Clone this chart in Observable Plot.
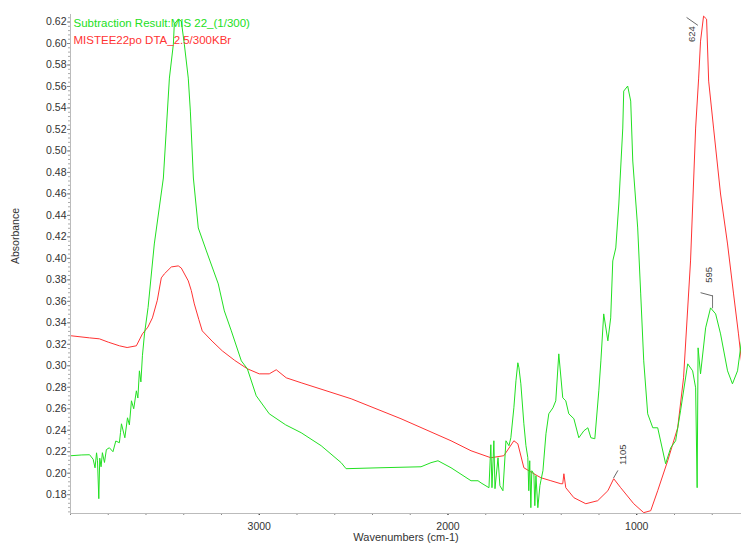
<!DOCTYPE html>
<html>
<head>
<meta charset="utf-8">
<script src="https://cdn.jsdelivr.net/npm/d3@7"></script>
<script src="https://cdn.jsdelivr.net/npm/@observablehq/plot@0.6"></script>
<style>
  body { margin: 0; background: #fff; }
  svg { font-family: "Liberation Sans", Arial, sans-serif; }
</style>
</head>
<body>
<div id="chart"></div>
<script>
// Green series: Subtraction Result:MIS 22_(1/300)
const greenWn = [3996,3940,3899,3880,3870,3862,3857,3850,3845,3838,3831,3820,3810,3794,3775,3760,3741,3735,3730,3712,3698,3688,3677,3665,3651,3643,3635,3627,3619,3608,3589,3556,3508,3492,3476,3455,3450,3429,3413,3397,3376,3365,3349,3323,3280,3217,3185,3148,3095,3063,3016,2947,2860,2778,2672,2566,2540,2355,2143,2090,2053,1984,1878,1841,1825,1783,1773,1767,1757,1751,1735,1725,1709,1693,1677,1667,1651,1640,1630,1624,1614,1598,1587,1577,1572,1567,1561,1556,1545,1540,1534,1524,1513,1508,1497,1481,1466,1444,1429,1413,1392,1376,1360,1333,1307,1280,1259,1243,1222,1201,1190,1175,1153,1138,1127,1111,1095,1074,1069,1048,1032,1021,995,979,963,942,915,889,847,820,794,768,730,704,688,680,675,662,635,609,582,556,519,493,466,445];
const greenAbs = [0.2163,0.2170,0.2172,0.2130,0.2050,0.2190,0.2116,0.1763,0.2140,0.2060,0.2191,0.2100,0.2220,0.2237,0.2200,0.2300,0.2284,0.2380,0.2460,0.2330,0.2516,0.2450,0.2674,0.2600,0.2767,0.2700,0.2953,0.2850,0.3093,0.3297,0.3542,0.4134,0.4748,0.5213,0.5678,0.5994,0.6180,0.6227,0.6208,0.5994,0.5678,0.5371,0.4748,0.4283,0.4069,0.3762,0.3511,0.3325,0.3046,0.2972,0.2721,0.2553,0.2450,0.2377,0.2256,0.2098,0.2042,0.2051,0.2060,0.2098,0.2116,0.2051,0.1930,0.1930,0.1910,0.1865,0.2265,0.1865,0.2302,0.1856,0.2144,0.1884,0.1837,0.2302,0.2256,0.2330,0.2609,0.2860,0.3028,0.2981,0.2832,0.2460,0.2256,0.2144,0.1837,0.2116,0.1679,0.2023,0.1995,0.1698,0.1977,0.1679,0.1884,0.1930,0.2023,0.2367,0.2553,0.2609,0.2674,0.3111,0.2702,0.2674,0.2553,0.2507,0.2330,0.2395,0.2423,0.2330,0.2321,0.2767,0.3046,0.3483,0.3232,0.3446,0.3976,0.4097,0.4506,0.5213,0.5557,0.5604,0.5464,0.4906,0.4283,0.3669,0.3046,0.2553,0.2423,0.2423,0.2088,0.2237,0.2302,0.2581,0.3018,0.2953,0.2795,0.1865,0.3167,0.2925,0.3353,0.3539,0.3483,0.3297,0.2953,0.2832,0.2953,0.3232];

// Red series: MISTEE22po DTA_2.5/300KBr
const redWn = [3995,3900,3847,3800,3741,3700,3651,3619,3590,3566,3540,3519,3503,3466,3429,3413,3376,3360,3344,3320,3302,3250,3196,3130,3063,3000,2947,2910,2857,2778,2513,2249,1984,1878,1773,1704,1651,1630,1598,1545,1508,1455,1402,1392,1386,1376,1333,1270,1207,1153,1122,1085,1016,963,926,889,836,783,752,715,688,672,662,646,630,619,593,556,519,487,461,445];
const redAbs = [0.3279,0.3260,0.3251,0.3220,0.3186,0.3170,0.3186,0.3297,0.3360,0.3446,0.3610,0.3818,0.3855,0.3920,0.3930,0.3910,0.3790,0.3700,0.3576,0.3430,0.3325,0.3230,0.3139,0.3050,0.2972,0.2925,0.2925,0.2963,0.2888,0.2842,0.2693,0.2507,0.2302,0.2209,0.2144,0.2163,0.2302,0.2274,0.2051,0.1995,0.1958,0.1930,0.1902,0.1902,0.1995,0.1865,0.1772,0.1716,0.1744,0.1837,0.1949,0.1865,0.1716,0.1633,0.1651,0.1837,0.2116,0.2423,0.2888,0.3976,0.5213,0.5678,0.6022,0.6255,0.6227,0.5650,0.5213,0.4599,0.4134,0.3669,0.3297,0.3046];

const seriesNames = ["Subtraction Result:MIS 22_(1/300)", "MISTEE22po DTA_2.5/300KBr"];
const seriesColors = ["#22e022", "#ff3333"];

// Peak labels
const peakLabels = ["624", "595", "1105"];
const peakWn = [646, 609, 1122];
const peakAbs = [0.6255, 0.3539, 0.1949];

const xMajorTicks = [1000, 2000, 3000];
const xMinorTicks = d3.range(600, 4001, 200);
const yMajorTicks = d3.range(0.18, 0.6201, 0.02).map(v => +v.toFixed(2));
const yMinorTicks = d3.range(0.164, 0.627, 0.004).map(v => +v.toFixed(3));

const green = greenWn.map((w, i) => ({wn: w, abs: greenAbs[i]}));
const red = redWn.map((w, i) => ({wn: w, abs: redAbs[i]}));
const peaks = peakLabels.map((l, i) => ({label: l, wn: peakWn[i], abs: peakAbs[i]}));

const leader = {
  draw(context, l) { context.moveTo(0, 0); context.lineTo(0, -l); }
};

const chart = Plot.plot({
  width: 741,
  height: 547,
  marginLeft: 70,
  marginRight: 0,
  marginTop: 14,
  marginBottom: 34,
  style: {fontFamily: "Liberation Sans, Arial, sans-serif", fontSize: "10px", color: "#333", background: "#fff"},
  x: {domain: [4000, 445]},
  y: {domain: [0.1625, 0.627]},
  marks: [
    Plot.axisY({ticks: yMinorTicks, tickSize: 2, tickFormat: () => "", stroke: "#aaa", label: null}),
    Plot.axisY({ticks: yMajorTicks, tickSize: 3, tickPadding: 1, tickFormat: d3.format(".2f"), stroke: "#888", fontSize: 10.5, label: null}),
    Plot.axisX({ticks: xMinorTicks, tickSize: 2, tickFormat: () => "", stroke: "#888", label: null}),
    Plot.axisX({ticks: xMajorTicks, tickSize: 2, tickPadding: 7, tickFormat: d => String(d), fontSize: 10.5, label: null}),
    Plot.ruleX([4000], {stroke: "#bbb"}),
    Plot.ruleY([0.1625], {stroke: "#bbb"}),
    Plot.text(["Absorbance"], {frameAnchor: "left", dx: -55, rotate: -90, fontSize: 10.5, fill: "#333"}),
    Plot.text(["Wavenumbers (cm-1)"], {frameAnchor: "bottom", dy: 27, fontSize: 11, fill: "#333"}),
    Plot.line(red, {x: "wn", y: "abs", stroke: seriesColors[1], strokeWidth: 1, clip: true}),
    Plot.line(green, {x: "wn", y: "abs", stroke: seriesColors[0], strokeWidth: 1, clip: true}),
    Plot.text([seriesNames[0]], {frameAnchor: "top-left", dx: 3, dy: 4, fill: seriesColors[0], fontSize: 11.5, textAnchor: "start"}),
    Plot.text([seriesNames[1]], {frameAnchor: "top-left", dx: 3, dy: 21, fill: seriesColors[1], fontSize: 11.5, textAnchor: "start"}),
    // leader lines
    Plot.vector([peaks[0]], {x: "wn", y: "abs", length: 13, rotate: -55, anchor: "start", shape: leader, stroke: "#555", strokeWidth: 0.8, dx: -6, dy: 9}),
    Plot.vector([peaks[1]], {x: "wn", y: "abs", length: 12, rotate: -75, anchor: "start", shape: leader, stroke: "#555", strokeWidth: 0.8, dx: 2, dy: -12}),
    Plot.vector([peaks[1]], {x: "wn", y: "abs", length: 12, rotate: 0, anchor: "start", shape: leader, stroke: "#555", strokeWidth: 0.8, dx: 2, dy: 0}),
    Plot.vector([peaks[2]], {x: "wn", y: "abs", length: 8, rotate: 30, anchor: "start", shape: leader, stroke: "#555", strokeWidth: 0.8, dx: 0, dy: -1}),
    // labels
    Plot.text([peaks[0]], {x: "wn", y: "abs", text: "label", rotate: -90, dx: -12, dy: 18, fontSize: 9.5, fill: "#444"}),
    Plot.text([peaks[1]], {x: "wn", y: "abs", text: "label", rotate: -90, dx: -2, dy: -33, fontSize: 9.5, fill: "#444"}),
    Plot.text([peaks[2]], {x: "wn", y: "abs", text: "label", rotate: -90, dx: 9, dy: -24, fontSize: 9.5, fill: "#444"})
  ]
});
document.getElementById("chart").appendChild(chart);
</script>
</body>
</html>
